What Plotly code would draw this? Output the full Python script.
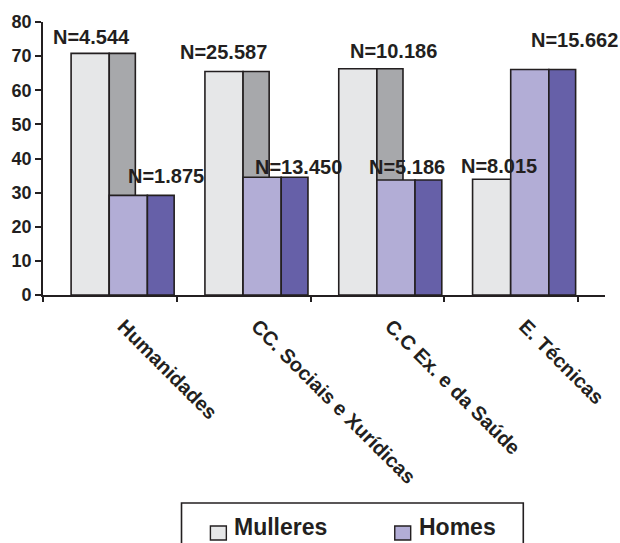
import plotly.graph_objects as go

# Study areas and share (%) of women / men in each
categories = ["Humanidades", "CC. Sociais e Xurídicas", "C.C Ex. e da Saúde", "E. Técnicas"]
mulleres_pct = [70.8, 65.5, 66.3, 33.9]
homes_pct = [29.2, 34.5, 33.7, 66.1]
mulleres_n = ["4.544", "25.587", "10.186", "8.015"]
homes_n = ["1.875", "13.450", "5.186", "15.662"]
y_ticks = [0, 10, 20, 30, 40, 50, 60, 70, 80]
series_names = ["Mulleres", "Homes"]

INK = "#231F20"
FONT = "Liberation Sans, Arial, sans-serif"
M_FRONT, M_SIDE = "#E6E7E8", "#A7A8AB"
H_FRONT, H_SIDE = "#B2ADD6", "#6660A8"

W, H = 620, 543
ML, MR, MT, MB = 41, 15, 22, 248
PW, PH = W - ML - MR, H - MT - MB


def px_x(px):
    return (px - ML) / PW


def px_y(py):
    return (H - MB - py) / PH


idx = list(range(len(categories)))
line = dict(color=INK, width=1.6)

fig = go.Figure()

# each series is a front face plus a darker side face (flat pseudo-3D look)
faces = [
    ("Mulleres", mulleres_pct, M_FRONT, 0.21, 0.285),
    ("Mulleres", mulleres_pct, M_SIDE, 0.495, 0.195),
    ("Homes", homes_pct, H_FRONT, 0.495, 0.285),
    ("Homes", homes_pct, H_SIDE, 0.78, 0.20),
]
for name, vals, color, off, w in faces:
    fig.add_trace(go.Bar(
        x=idx, y=vals, base=0, offset=off, width=w, name=name,
        marker=dict(color=color, line=line), showlegend=False, hoverinfo="skip",
    ))

# invisible trace to host the boundary tick marks on a second x axis
fig.add_trace(go.Scatter(x=[0], y=[0], xaxis="x2", mode="markers",
                         marker=dict(opacity=0), showlegend=False, hoverinfo="skip"))

# N labels above the bars: (x offset within category, shift in px)
m_lab = [(0.36, 16), (0.35, 19), (0.62, 18), (0.41, 13)]
h_lab = [(0.92, 19), (0.91, 10), (0.72, 13), (0.97, 29)]
for i in idx:
    for vals, ns, pos in ((mulleres_pct, mulleres_n, m_lab), (homes_pct, homes_n, h_lab)):
        fig.add_annotation(
            x=i + pos[i][0], y=vals[i], yshift=pos[i][1], text="<b>N=" + ns[i] + "</b>",
            showarrow=False, xanchor="center", yanchor="middle",
            font=dict(family=FONT, size=20, color=INK),
        )

# boxed legend below the chart (box runs off the bottom edge)
fig.add_shape(type="rect", xref="paper", yref="paper",
              x0=px_x(180), x1=px_x(523), y0=px_y(503), y1=px_y(570),
              line=dict(color=INK, width=1.6), fillcolor="white", layer="above")
for name, color, sq_left in zip(series_names, [M_FRONT, H_FRONT], [209, 394]):
    fig.add_shape(type="rect", xref="paper", yref="paper",
                  x0=px_x(sq_left), x1=px_x(sq_left + 16), y0=px_y(540), y1=px_y(526),
                  line=dict(color=INK, width=1.4), fillcolor=color, layer="above")
    fig.add_annotation(xref="paper", yref="paper", x=px_x(sq_left + 23), y=px_y(527),
                       text="<b>" + name + "</b>", showarrow=False, borderpad=0,
                       xanchor="left", yanchor="middle",
                       font=dict(family=FONT, size=23, color=INK))

x_range = [0, PW / 134.3]
fig.update_layout(
    width=W, height=H,
    margin=dict(l=ML, r=MR, t=MT, b=MB),
    paper_bgcolor="white", plot_bgcolor="white",
    barmode="overlay", showlegend=False,
    font=dict(family=FONT, color=INK),
    xaxis=dict(
        range=x_range, tickvals=[i + 0.6 for i in idx],
        ticktext=["<b>" + c + "</b>" for c in categories],
        tickangle=45, ticks="", showgrid=False, zeroline=False,
        showline=True, linecolor=INK, linewidth=1.6, ticklabelstandoff=10,
        tickfont=dict(family=FONT, size=20, color=INK),
    ),
    xaxis2=dict(
        range=x_range, overlaying="x", side="bottom", anchor="y",
        tickvals=list(range(len(categories) + 1)), showticklabels=False,
        ticks="outside", ticklen=6, tickwidth=1.6, tickcolor=INK,
        showgrid=False, zeroline=False, showline=False,
    ),
    yaxis=dict(
        range=[0, 80], tickvals=y_ticks, ticktext=["<b>%d</b>" % v for v in y_ticks],
        ticks="outside", ticklen=6, tickwidth=1.6, tickcolor=INK,
        showline=True, linecolor=INK, linewidth=1.6,
        showgrid=False, zeroline=False,
        tickfont=dict(family=FONT, size=18, color=INK),
    ),
)

fig.write_html("out.html")
